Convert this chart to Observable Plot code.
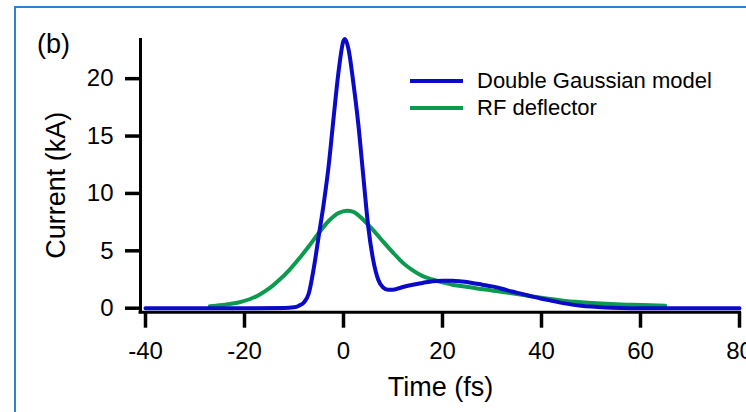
<!DOCTYPE html>
<html>
<head>
<meta charset="utf-8">
<script src="https://cdn.jsdelivr.net/npm/d3@7"></script>
<script src="https://cdn.jsdelivr.net/npm/@observablehq/plot@0.6"></script>
<style>
  html, body { margin: 0; padding: 0; background: #fff; overflow: hidden; }
  #wrap { position: relative; width: 746px; height: 412px; overflow: hidden; font-family: "Liberation Sans", Arial, Helvetica, sans-serif; }
  #border { position: absolute; left: 14px; top: 6px; width: 760px; height: 440px; border: 2px solid #2f80d0; box-sizing: border-box; pointer-events: none; }
  #legend { position: absolute; left: 410px; top: 67px; font-size: 22px; color: #000; }
  .row { display: flex; align-items: center; height: 27px; line-height: 27px; }
  .sw { width: 53px; height: 4px; margin-right: 14px; }
</style>
</head>
<body>
<div id="wrap"></div>
<script>
// ---- data ----
const seriesNames = ["Double Gaussian model", "RF deflector"];
const seriesColors = ["#0a0ac8", "#0b9a4e"];

const blueTime = [-40, -30, -20, -12, -10, -9, -8, -7, -6, -5, -4, -3, -2, -1, 0, 0.3, 1, 2, 3, 4, 5, 6, 7, 8, 9, 10, 12, 14, 16, 18, 20, 22, 24, 26, 28, 30, 32, 34, 36, 38, 40, 42, 45, 48, 50, 53, 56, 60, 70, 80];
const blueCurrent = [0, 0, 0, 0.02, 0.08, 0.22, 0.5, 1.3, 3.5, 6.3, 9.1, 12.4, 16.6, 20.6, 23.3, 23.45, 22.6, 19.6, 16.0, 11.5, 7.1, 4.2, 2.5, 1.8, 1.6, 1.6, 1.85, 2.05, 2.2, 2.35, 2.4, 2.4, 2.32, 2.2, 2.05, 1.9, 1.7, 1.45, 1.25, 1.03, 0.82, 0.65, 0.4, 0.22, 0.14, 0.06, 0.02, 0, 0, 0];

const greenTime = [-27, -25, -23, -21, -19, -17, -15, -13, -11, -9, -7, -5, -3, -1, 0.7, 2, 3, 4, 6, 8, 10, 12, 14, 16, 18, 20, 22, 24, 27, 30, 34, 38, 41, 44, 48, 51, 55, 58, 62, 65];
const greenCurrent = [0.18, 0.26, 0.37, 0.52, 0.78, 1.18, 1.72, 2.45, 3.3, 4.3, 5.4, 6.55, 7.6, 8.3, 8.5, 8.4, 8.1, 7.7, 6.8, 5.8, 4.85, 3.95, 3.3, 2.8, 2.5, 2.25, 2.05, 1.92, 1.72, 1.55, 1.3, 1.05, 0.85, 0.68, 0.52, 0.43, 0.34, 0.3, 0.25, 0.22];

const xTicks = [-40, -20, 0, 20, 40, 60, 80];
const yTicks = [0, 5, 10, 15, 20];
const xDomain = [-40, 80];
const yDomain = [0, 23.5];
const xTitle = "Time (fs)";
const yTitle = "Current (kA)";
const panelLabel = "(b)";

// ---- tables ----
const blue = blueTime.map((t, i) => ({t, c: blueCurrent[i]}));
const green = greenTime.map((t, i) => ({t, c: greenCurrent[i]}));

const font = "'Liberation Sans', Arial, Helvetica, sans-serif";

const chart = Plot.plot({
  width: 746,
  height: 412,
  marginLeft: 145,
  marginRight: 7,
  marginTop: 38,
  marginBottom: 104.3,
  style: {fontFamily: font, fontSize: "24px", background: "transparent", color: "#000"},
  x: {domain: xDomain},
  y: {domain: yDomain},
  marks: [
    Plot.axisY({ticks: yTicks, tickSize: 15, tickPadding: 12, dx: -5, strokeWidth: 3.5, fontSize: 24, label: null, tickFormat: d => `${d}`}),
    Plot.axisX({ticks: xTicks, tickSize: 16, tickPadding: 14, dy: 4, strokeWidth: 3.5, fontSize: 24, label: null, tickFormat: d => `${d}`}),
    Plot.ruleX([xDomain[0]], {dx: -5, insetBottom: -5.5, strokeWidth: 3, stroke: "#000"}),
    Plot.ruleY([0], {dy: 4, insetLeft: -6.5, insetRight: -2, strokeWidth: 3, stroke: "#000"}),
    Plot.line(green, {x: "t", y: "c", stroke: seriesColors[1], strokeWidth: 4, curve: "monotone-x"}),
    Plot.line(blue, {x: "t", y: "c", stroke: seriesColors[0], strokeWidth: 4, curve: "monotone-x"}),
    Plot.text([xTitle], {frameAnchor: "bottom", dy: 79, dx: -2, fontSize: 27, lineAnchor: "middle", fill: "#000"}),
    Plot.text([yTitle], {frameAnchor: "left", dx: -89, dy: 12, rotate: -90, fontSize: 27, lineAnchor: "middle", textAnchor: "middle", fill: "#000"}),
    Plot.text([panelLabel], {frameAnchor: "top-left", dx: -92, dy: 6, fontSize: 27, lineAnchor: "middle", textAnchor: "middle", fill: "#000"})
  ]
});

const wrap = document.getElementById("wrap");
wrap.appendChild(chart);

const border = document.createElement("div");
border.id = "border";
wrap.appendChild(border);

const legend = document.createElement("div");
legend.id = "legend";
seriesNames.forEach((name, i) => {
  const row = document.createElement("div");
  row.className = "row";
  const sw = document.createElement("div");
  sw.className = "sw";
  sw.style.background = seriesColors[i];
  const label = document.createElement("span");
  label.textContent = name;
  row.appendChild(sw);
  row.appendChild(label);
  legend.appendChild(row);
});
wrap.appendChild(legend);
</script>
</body>
</html>
